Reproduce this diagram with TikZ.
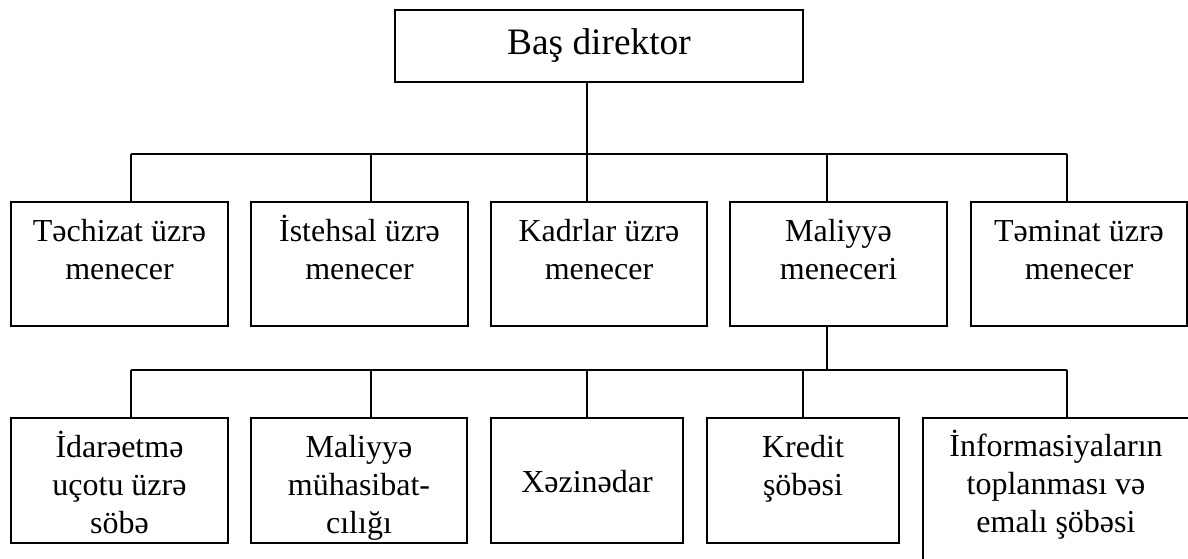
\documentclass[tikz,border=0pt]{standalone}
\usepackage{fontspec}
\setmainfont{Liberation Serif}
\tikzset{
  box/.style={draw, line width=0.65pt, inner sep=0pt, outer sep=0pt,
              font=\fontsize{16}{19}\selectfont},
  link/.style={line width=0.65pt},
}
% text block of a given width and height, first baseline at #3 from the top
\newcommand\celltext[4]{\parbox[c][#2][t]{#1}{\centering\rule{0pt}{#3}#4}}
\begin{document}
\begin{tikzpicture}[x=0.5pt, y=-0.5pt]
  \useasboundingbox (0,0) rectangle (1188,558);
  \clip (0,0) rectangle (1188,558);

  % director
  \node[box, minimum width=204pt, minimum height=36pt,
        font=\fontsize{18.67}{22}\selectfont] (dir) at (599,46) {Baş direktor};

  % managers
  \node[box] (m1) at (119.5,264) {\celltext{108.5pt}{62pt}{19.75pt}{Təchizat üzrə\\menecer}};
  \node[box] (m2) at (359.5,264) {\celltext{108.5pt}{62pt}{19.75pt}{İstehsal üzrə\\menecer}};
  \node[box] (m3) at (599,264)   {\celltext{108pt}{62pt}{19.75pt}{Kadrlar üzrə\\menecer}};
  \node[box] (m4) at (838.5,264) {\celltext{108.5pt}{62pt}{19.75pt}{Maliyyə\\meneceri}};
  \node[box] (m5) at (1079,264)  {\celltext{108pt}{62pt}{19.75pt}{Təminat üzrə\\menecer}};

  % finance departments
  \node[box] (s1) at (119.5,480.5) {\celltext{108.5pt}{62.5pt}{19.75pt}{İdarəetmə\\uçotu üzrə\\söbə}};
  \node[box] (s2) at (359,480.5)   {\celltext{108pt}{62.5pt}{19.75pt}{Maliyyə\\mühasibat-\\cılığı}};
  \node[box] (s3) at (587,480.5)   {\celltext{96pt}{62.5pt}{37pt}{Xəzinədar}};
  \node[box] (s4) at (803,480.5)   {\celltext{96pt}{62.5pt}{19.75pt}{Kredit\\şöbəsi}};
  \node[box] (s5) at (1056,499)    {\celltext{133pt}{81pt}{19pt}{İnformasiyaların\\toplanması və\\emalı şöbəsi}};

  % upper bus
  \coordinate (a1) at (131,154);
  \coordinate (a2) at (371,154);
  \coordinate (a3) at (587,154);
  \coordinate (a4) at (827,154);
  \coordinate (a5) at (1067,154);
  \draw[link] (dir.south -| a3) -- (a3);
  \draw[link] (a1) -- (a5);
  \foreach \i in {1,...,5} {
    \draw[link] (a\i) -- (m\i.north -| a\i);
  }

  % lower bus
  \coordinate (bh) at (827,370);
  \coordinate (b1) at (131,370);
  \coordinate (b2) at (371,370);
  \coordinate (b3) at (587,370);
  \coordinate (b4) at (803,370);
  \coordinate (b5) at (1067,370);
  \draw[link] (m4.south -| bh) -- (bh);
  \draw[link] (b1) -- (b5);
  \foreach \i in {1,...,5} {
    \draw[link] (b\i) -- (s\i.north -| b\i);
  }
\end{tikzpicture}
\end{document}
